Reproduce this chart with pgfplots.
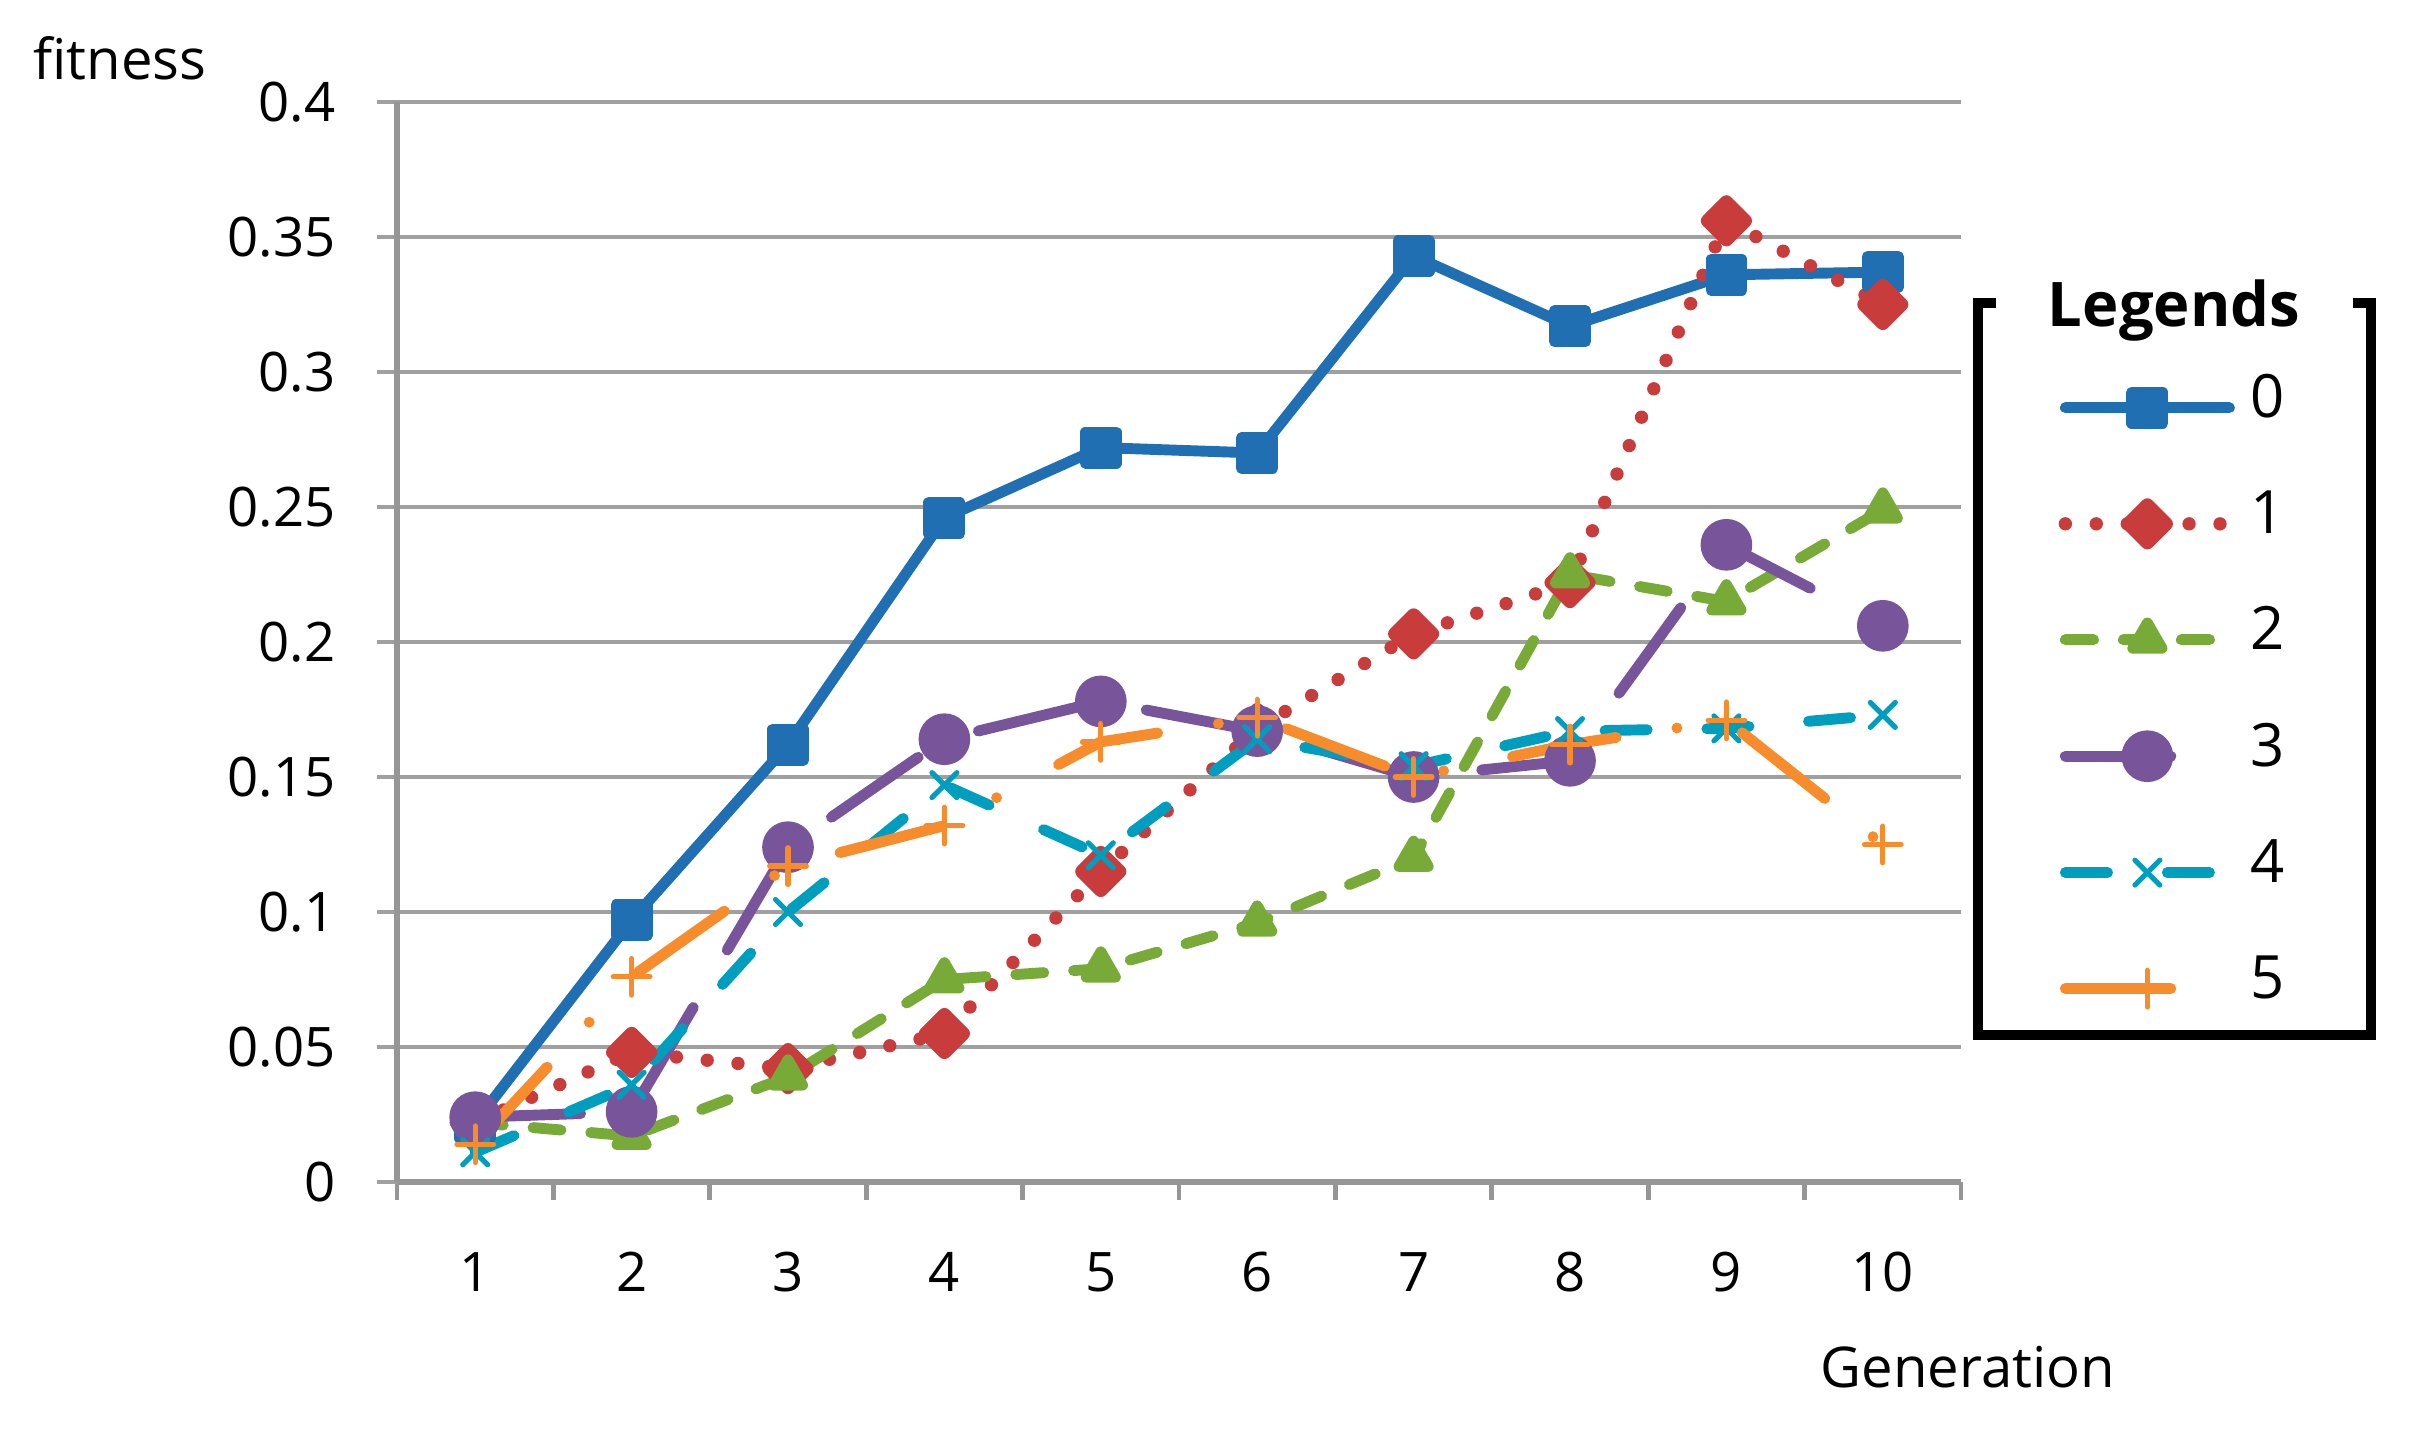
\documentclass[border=0pt]{standalone}
\usepackage{pgfplots}
\pgfplotsset{compat=1.18}
\usepackage{fontspec}
\setmainfont{Open Sans}
\definecolor{cBlue}{RGB}{31,111,178}
\definecolor{cRed}{RGB}{200,60,60}
\definecolor{cGreen}{RGB}{120,170,55}
\definecolor{cPurple}{RGB}{120,85,155}
\definecolor{cCyan}{RGB}{0,158,190}
\definecolor{cOrange}{RGB}{247,140,45}
\definecolor{gridgray}{RGB}{160,160,160}
\definecolor{axisgray}{RGB}{150,150,150}
\begin{document}
\begin{tikzpicture}
\path (0,0) rectangle (24.14cm,14.37cm);
\begin{axis}[
  at={(3.97cm,2.55cm)}, anchor=south west,
  scale only axis, width=15.64cm, height=10.80cm,
  xmin=0.5, xmax=10.5, ymin=0, ymax=0.4,
  axis x line*=bottom, axis y line*=left,
  axis line style={draw=axisgray, line width=1.6pt},
  xtick={1,2,3,4,5,6,7,8,9,10},
  xticklabels={1,2,3,4,5,6,7,8,9,10},
  minor xtick={0.5,1.5,2.5,3.5,4.5,5.5,6.5,7.5,8.5,9.5,10.5},
  major x tick style={draw=none},
  minor x tick style={draw=axisgray, line width=1.4pt},
  minor tick length=0.18cm,
  ytick={0,0.05,0.1,0.15,0.2,0.25,0.3,0.35,0.4},
  yticklabels={0,0.05,0.1,0.15,0.2,0.25,0.3,0.35,0.4},
  ytick style={draw=gridgray, line width=0.9pt},
  major tick length=0.2cm,
  tick align=outside,
  ymajorgrids,
  grid style={draw=gridgray, line width=0.9pt},
  ticklabel style={font=\fontsize{15.5}{18}\selectfont, text=black},
  xticklabel style={yshift=-0.38cm},
  yticklabel style={xshift=-0.29cm},
  legend style={at={(1.062,0.736)}, anchor=north west, draw=none, fill=none,
    font=\fontsize{17}{20}\selectfont, row sep=0.76cm, column sep=0.14cm,
    inner sep=0pt, nodes={inner sep=0pt, text height=0.3cm, text depth=0.1cm}},
  legend cell align=left,
  legend image code/.code={\draw[mark repeat=2,mark phase=2] plot coordinates {(0cm,0cm) (0.82cm,0cm) (1.64cm,0cm)};},
]
\addplot[cBlue, line width=3.1pt, line cap=round, line join=round, solid, mark=square*, mark size=4.4pt, mark options={solid}]
  coordinates {(1,0.022) (2,0.097) (3,0.162) (4,0.246) (5,0.272) (6,0.270) (7,0.343) (8,0.317) (9,0.336) (10,0.337)};
\addlegendentry{0}
\addplot[cRed, line width=3.8pt, line cap=round, line join=round, dash pattern=on 0pt off 8.8pt, mark=square*, mark size=3.8pt, mark options={solid, rotate=45}]
  coordinates {(1,0.022) (2,0.048) (3,0.042) (4,0.055) (5,0.115) (6,0.168) (7,0.203) (8,0.222) (9,0.356) (10,0.325)};
\addlegendentry{1}
\addplot[cGreen, line width=3.1pt, line cap=round, line join=round, dash pattern=on 8pt off 8.5pt, mark=triangle*, mark size=4.8pt, mark options={solid}]
  coordinates {(1,0.022) (2,0.017) (3,0.039) (4,0.075) (5,0.079) (6,0.096) (7,0.120) (8,0.225) (9,0.215) (10,0.249)};
\addlegendentry{2}
\addplot[cPurple, line width=3.1pt, line cap=round, line join=round, dash pattern=on 30pt off 19pt, mark=*, mark size=5.8pt, mark options={solid}]
  coordinates {(1,0.024) (2,0.026) (3,0.124) (4,0.164) (5,0.178) (6,0.167) (7,0.150) (8,0.156) (9,0.236) (10,0.206)};
\addlegendentry{3}
\addplot[cCyan, line width=3.1pt, line cap=round, line join=round, dash pattern=on 12pt off 17pt, mark=x, mark size=5pt, mark options={solid, line width=1.5pt}]
  coordinates {(1,0.011) (2,0.036) (3,0.100) (4,0.147) (5,0.121) (6,0.164) (7,0.154) (8,0.167) (9,0.168) (10,0.173)};
\addlegendentry{4}
\addplot[cOrange, line width=3.1pt, line cap=round, line join=round, dash pattern=on 30pt off 17.5pt on 0pt off 20pt, mark=+, mark size=5.2pt, mark options={solid, line width=1.5pt}]
  coordinates {(1,0.014) (2,0.076) (3,0.117) (4,0.132) (5,0.163) (6,0.172) (7,0.150) (8,0.162) (9,0.171) (10,0.125)};
\addlegendentry{5}
\end{axis}
\node[font=\fontsize{16}{19}\selectfont] at (1.20cm,13.79cm) {fitness};
\node[font=\fontsize{16}{19}\selectfont] at (19.68cm,0.70cm) {Generation};
\draw[line width=2.6pt, line join=miter] (19.96cm,11.34cm) -- (19.78cm,11.34cm) -- (19.78cm,4.02cm) -- (23.71cm,4.02cm) -- (23.71cm,11.34cm) -- (23.53cm,11.34cm);
\node[font=\fontsize{17.5}{20}\selectfont\bfseries] at (21.74cm,11.26cm) {Legends};
\end{tikzpicture}
\end{document}
